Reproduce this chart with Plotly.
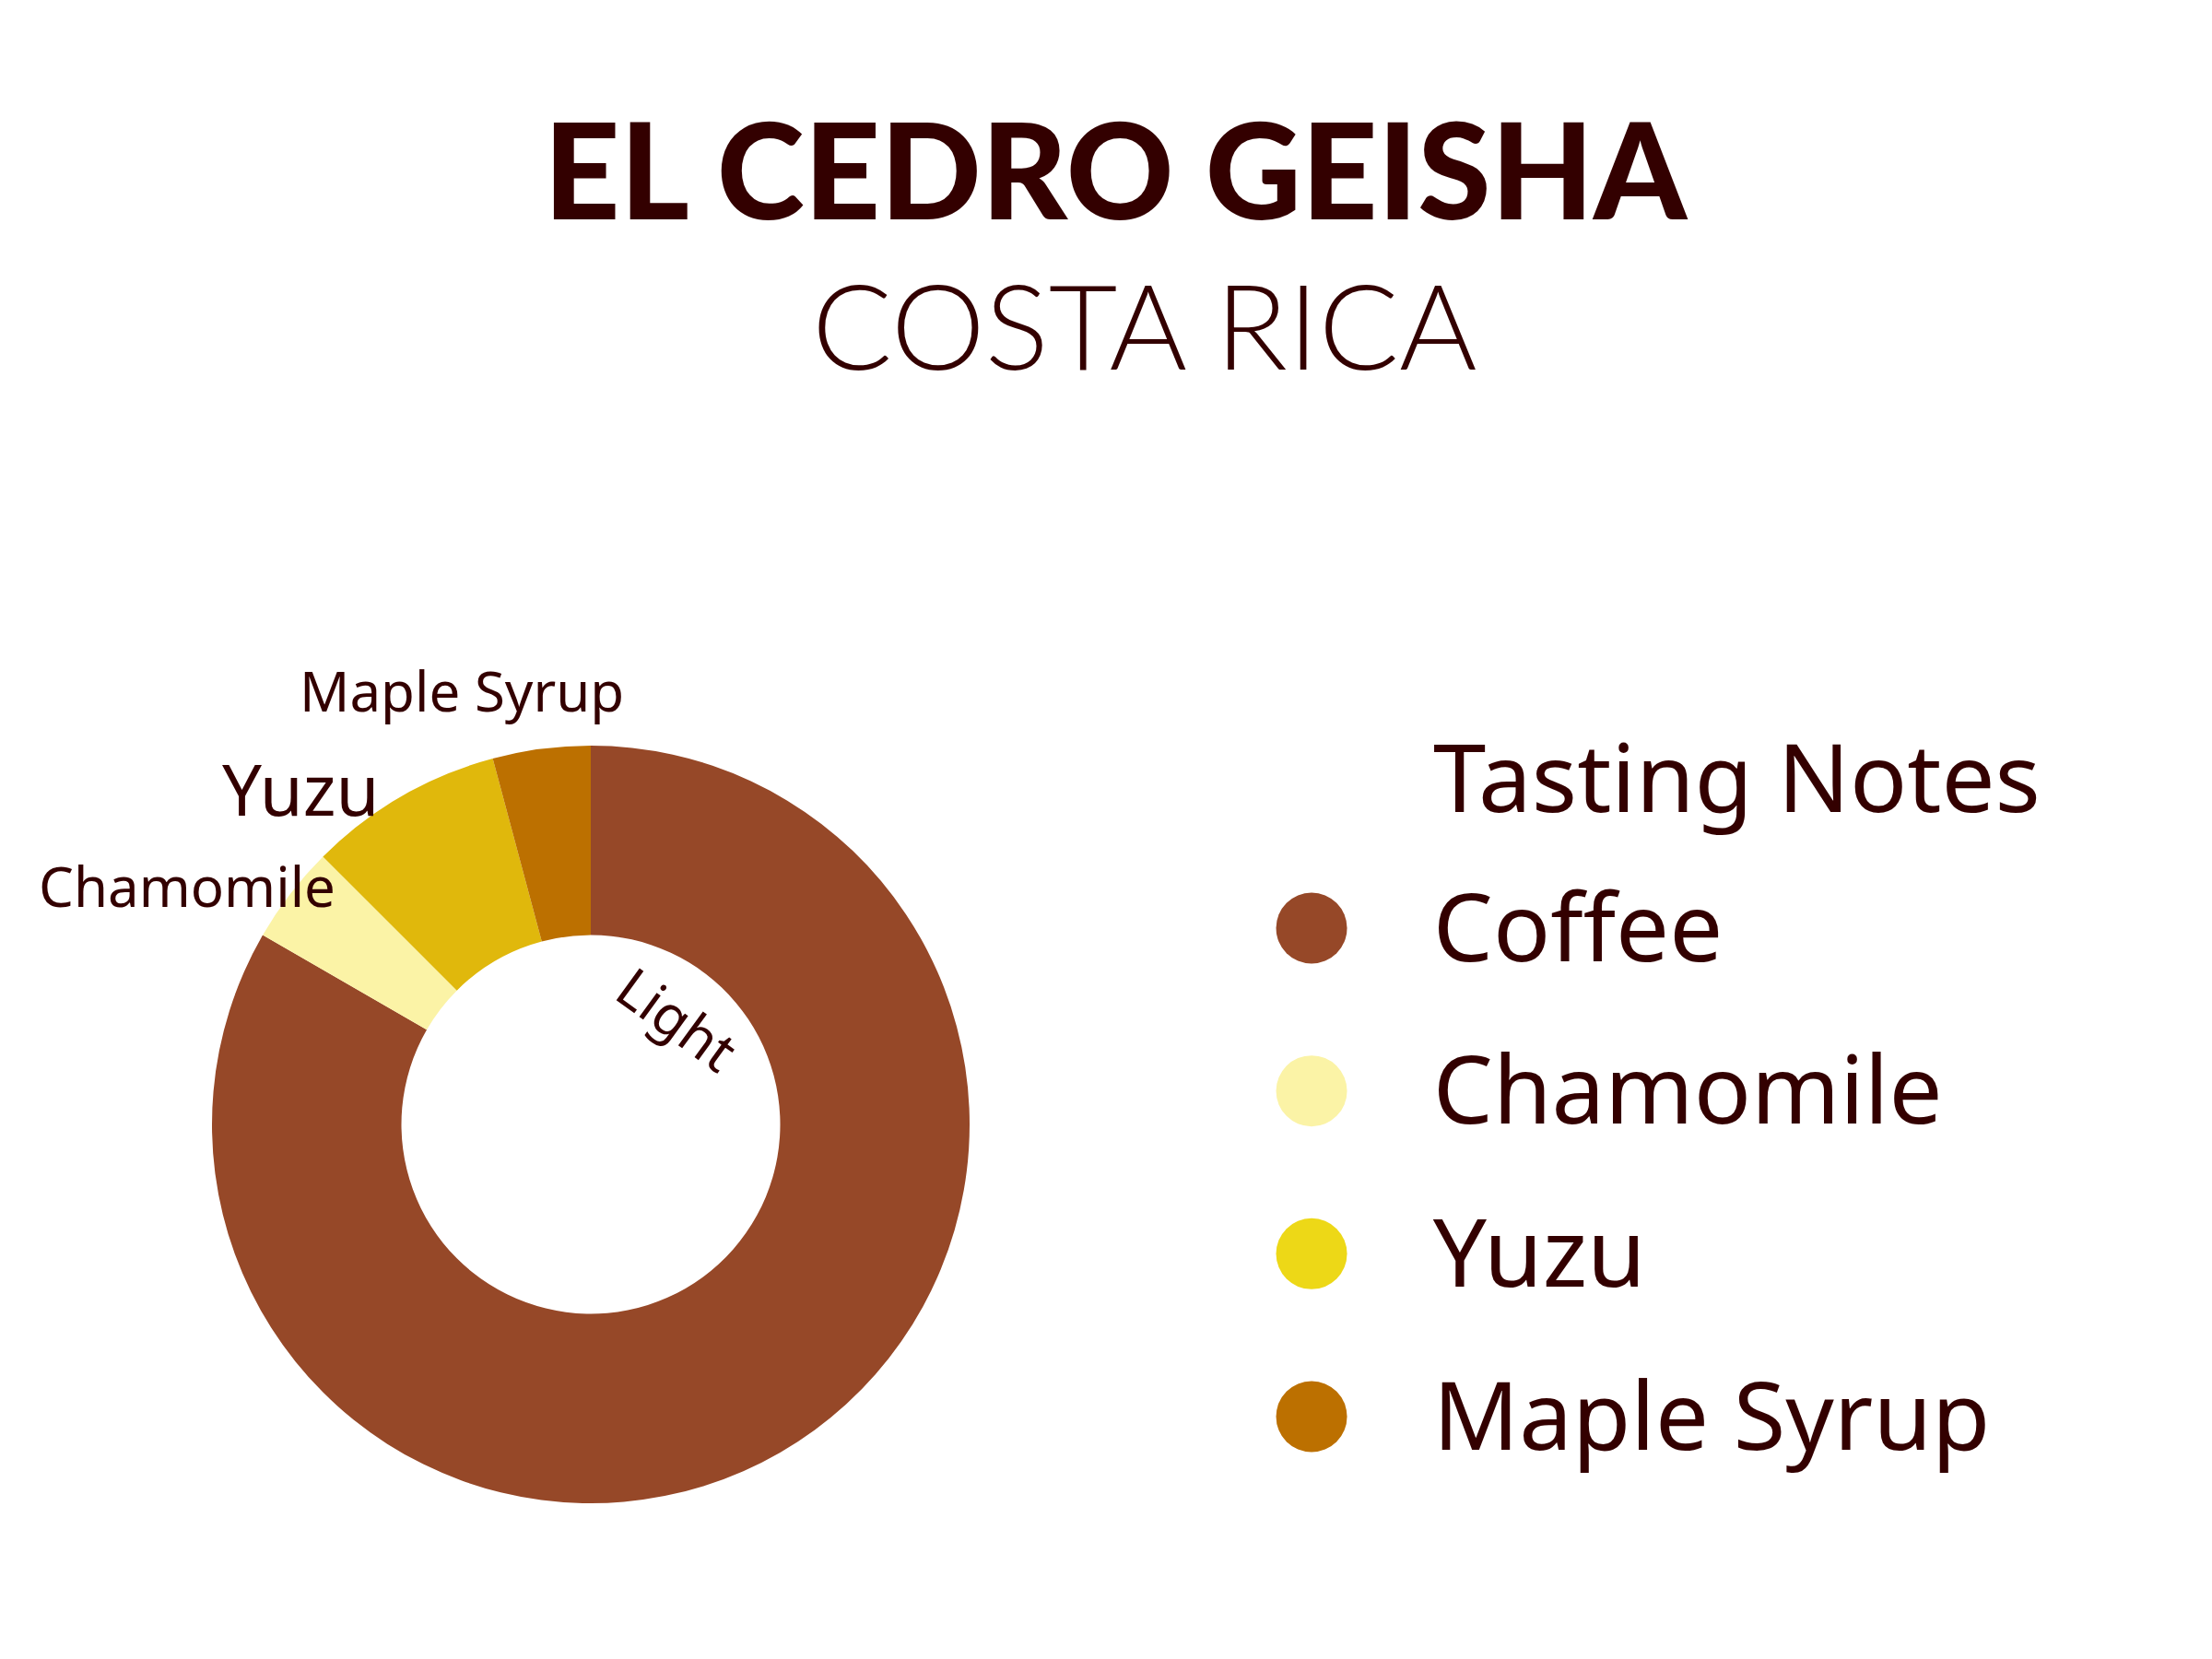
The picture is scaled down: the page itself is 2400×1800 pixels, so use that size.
import plotly.graph_objects as go

# ---- data ----
notes = ["Coffee", "Chamomile", "Yuzu", "Maple Syrup"]
shares = [20, 1, 2, 1]
slice_labels = ["", "Chamomile", "Yuzu", "Maple Syrup"]
slice_colors = ["#964828", "#FBF3A6", "#E0B80C", "#BC7000"]
legend_colors = ["#964828", "#FBF3A6", "#EDD817", "#BC7000"]
roast = "Light"
title_main = "EL CEDRO GEISHA"
title_sub = "COSTA RICA"
legend_title = "Tasting Notes"

TXT = "#330000"
LABEL_FONT = "Noto Sans"
W, H = 2400, 1800


def px(x):
    return x / W


def py(y):
    return 1 - y / H


# label placement (pixel positions of slice captions) and sizes
label_pos = {"Chamomile": (195, 953, 60), "Yuzu": (318, 848, 76), "Maple Syrup": (493, 741, 60)}

fig = go.Figure()

fig.add_trace(go.Pie(
    labels=notes,
    values=shares,
    textinfo="none",
    sort=False,
    direction="clockwise",
    hole=0.5,
    marker=dict(colors=slice_colors, line=dict(width=0)),
    domain=dict(x=[px(222), px(1044)], y=[py(1623), py(801)]),
    showlegend=False,
    hoverinfo="label+percent",
))

# legend drawn as markers + text on hidden axes
fig.add_trace(go.Scatter(
    x=[0.88] * len(notes), y=notes, mode="markers",
    marker=dict(size=77, color=legend_colors, line=dict(width=0)),
    showlegend=False, hoverinfo="skip",
))
fig.add_trace(go.Scatter(
    x=[2.1] * len(notes), y=notes, mode="text", text=notes,
    textposition="middle right", yaxis="y2",
    textfont=dict(family=LABEL_FONT, size=103, color=TXT),
    showlegend=False, hoverinfo="skip",
))

annotations = [
    dict(text=title_main, x=px(1203), y=py(174), xref="paper", yref="paper",
         xanchor="center", yanchor="middle", showarrow=False,
         font=dict(family="Lato", size=144, color=TXT, weight=900)),
    dict(text=title_sub, x=px(1234), y=py(343), xref="paper", yref="paper",
         xanchor="center", yanchor="middle", showarrow=False,
         font=dict(family="Lato", size=129, color=TXT, weight=300)),
    dict(text=legend_title, x=px(1545), y=py(833), xref="paper", yref="paper",
         xanchor="left", yanchor="middle", showarrow=False,
         font=dict(family=LABEL_FONT, size=103, color=TXT)),
    dict(text=roast, x=px(727), y=py(1097), xref="paper", yref="paper",
         xanchor="center", yanchor="middle", showarrow=False, textangle=36,
         font=dict(family=LABEL_FONT, size=60, color=TXT)),
]
for lab in slice_labels:
    if lab:
        lx, ly, ls = label_pos[lab]
        annotations.append(dict(
            text=lab, x=px(lx), y=py(ly), xref="paper", yref="paper",
            xanchor="center", yanchor="middle", showarrow=False,
            font=dict(family=LABEL_FONT, size=ls, color=TXT)))

fig.update_layout(
    width=W, height=H,
    margin=dict(l=0, r=0, t=0, b=0, autoexpand=False),
    paper_bgcolor="white", plot_bgcolor="rgba(0,0,0,0)",
    xaxis=dict(domain=[px(1320), 1.0], range=[0, 10], visible=False, fixedrange=True),
    yaxis=dict(domain=[py(1617.4), py(910.6)], type="category",
               categoryorder="array", categoryarray=notes,
               range=[3.5, -0.5], visible=False, fixedrange=True),
    yaxis2=dict(domain=[py(1627.4), py(920.6)], type="category", anchor="x",
                categoryorder="array", categoryarray=notes,
                range=[3.5, -0.5], visible=False, fixedrange=True),
    annotations=annotations,
)

fig.write_html("out.html")
